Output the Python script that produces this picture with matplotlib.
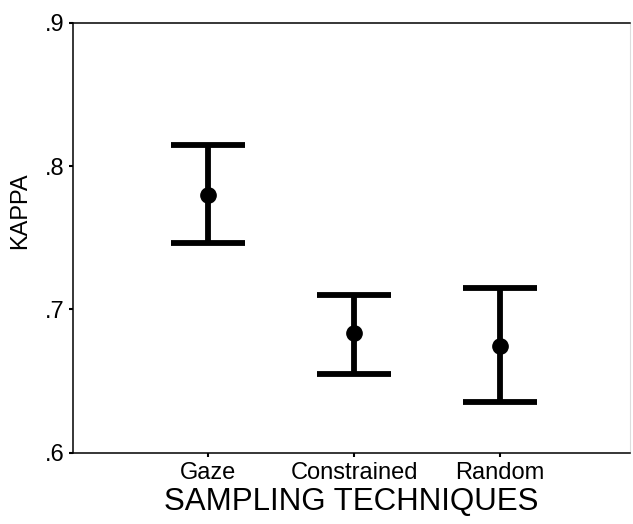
import numpy as np
import matplotlib
import matplotlib.pyplot as plt

matplotlib.rc('font', family=['Liberation Sans', 'DejaVu Sans'])

techniques = ['Gaze', 'Constrained', 'Random']
kappa_mean = [0.780, 0.6835, 0.6745]
kappa_upper = [0.8147, 0.710, 0.7149]
kappa_lower = [0.7463, 0.6549, 0.6353]

x = np.arange(1, len(techniques) + 1)
mean = np.array(kappa_mean)
err = [mean - np.array(kappa_lower), np.array(kappa_upper) - mean]

fig = plt.figure(figsize=(6.33, 5.24), dpi=100)
ax = fig.add_axes([0.1153, 0.136, 0.88, 0.8207])

ax.errorbar(x, mean, yerr=err, fmt='o', color='black', ms=11,
            elinewidth=4.2, capsize=26.5, capthick=4.2)

ax.set_xlim(0.075, 3.89)
ax.set_ylim(0.6, 0.9)
ax.set_yticks([0.6, 0.7, 0.8, 0.9])
ax.set_yticklabels(['.6', '.7', '.8', '.9'], fontsize=17)
ax.set_xticks(x)
ax.set_xticklabels(techniques, fontsize=17)
ax.tick_params(length=3, width=1.5, pad=3)
ax.tick_params(axis='x', pad=4)

for s in ['left', 'bottom', 'top']:
    ax.spines[s].set_linewidth(1.1)
ax.spines['right'].set_color('#dddddd')
ax.spines['right'].set_linewidth(0.8)

ax.set_ylabel('KAPPA', fontsize=17, va='center')
ax.yaxis.set_label_coords(-0.094, 0.562)
ax.set_xlabel('SAMPLING TECHNIQUES', fontsize=22.5, labelpad=2)

fig.savefig('out.png', dpi=100)
